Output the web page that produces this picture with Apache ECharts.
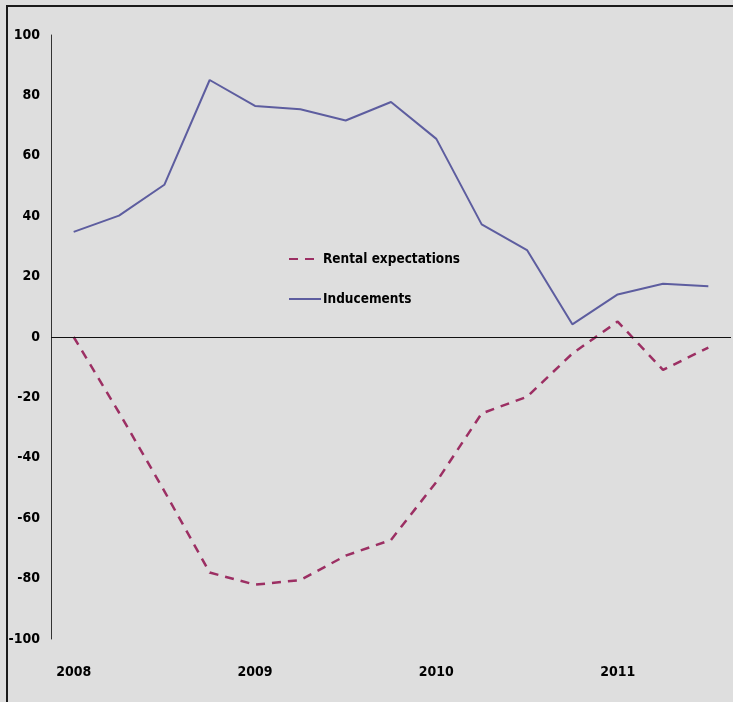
<!DOCTYPE html>
<html>
<head>
<meta charset="utf-8">
<script src="https://cdn.jsdelivr.net/npm/echarts@6/dist/echarts.min.js"></script>
<style>
  html, body { margin: 0; padding: 0; background: #dedede; }
  #chart { width: 733px; height: 702px; }
</style>
</head>
<body>
<div id="chart"></div>
<script>
// Quarterly periods, 2008 Q1 to 2011 Q3
const quarters = ['2008 Q1','2008 Q2','2008 Q3','2008 Q4',
                  '2009 Q1','2009 Q2','2009 Q3','2009 Q4',
                  '2010 Q1','2010 Q2','2010 Q3','2010 Q4',
                  '2011 Q1','2011 Q2','2011 Q3'];
// Year labels shown under the first quarter of each year
const yearLabels = ['2008','','','','2009','','','','2010','','','','2011','',''];

const rentalExpectations = [0, -25, -51, -78, -82, -80.5, -72.4, -67.2, -48, -25.3, -19.8, -5.5, 5.1, -10.9, -3.5];
const inducements = [34.8, 40.2, 50.4, 85.1, 76.5, 75.4, 71.7, 77.8, 65.6, 37.3, 28.8, 4.2, 14.1, 17.6, 16.8];

const yTicks = { min: -100, max: 100, interval: 20 };

const FONT = '"DejaVu Sans Condensed", sans-serif';

const chart = echarts.init(document.getElementById('chart'), null, { renderer: 'canvas' });

chart.setOption({
  backgroundColor: '#dedede',
  animation: false,
  graphic: [{
    type: 'rect',
    shape: { x: 7, y: 6, width: 800, height: 800 },
    style: { fill: 'none', stroke: '#1a1a1a', lineWidth: 2 },
    silent: true
  }],
  grid: { left: 51, right: 2, top: 35, bottom: 63 },
  legend: {
    orient: 'vertical',
    left: 283,
    top: 247,
    itemWidth: 32,
    itemHeight: 14,
    itemGap: 26,
    itemStyle: { opacity: 0 },
    data: ['Rental expectations', 'Inducements'],
    textStyle: { fontFamily: FONT, fontWeight: 'bold', fontSize: 13.5, color: '#000', padding: [0, 0, 0, -3] }
  },
  xAxis: {
    type: 'category',
    data: quarters,
    boundaryGap: true,
    axisLine: { show: false },
    axisTick: { show: false },
    splitLine: { show: false },
    axisLabel: {
      interval: 0,
      margin: 26,
      formatter: (v, i) => yearLabels[i],
      fontFamily: FONT, fontWeight: 'bold', fontSize: 14, color: '#000'
    }
  },
  yAxis: {
    type: 'value',
    min: yTicks.min, max: yTicks.max, interval: yTicks.interval,
    axisLine: { show: true, lineStyle: { color: '#333', width: 1 } },
    axisTick: { show: false },
    splitLine: { show: false },
    axisLabel: {
      margin: 11,
      fontFamily: FONT, fontWeight: 'bold', fontSize: 14, color: '#000'
    }
  },
  series: [
    {
      name: 'Rental expectations',
      type: 'line',
      data: rentalExpectations,
      symbol: 'none',
      color: '#9c2f63',
      lineStyle: { color: '#9c2f63', width: 2.5, type: [9, 7] },
      markLine: {
        silent: true,
        symbol: 'none',
        label: { show: false },
        lineStyle: { color: '#111', width: 1.2, type: 'solid' },
        data: [{ yAxis: 0 }]
      },
      z: 3
    },
    {
      name: 'Inducements',
      type: 'line',
      data: inducements,
      symbol: 'none',
      color: '#5d5d9f',
      lineStyle: { color: '#5d5d9f', width: 2 },
      z: 4
    }
  ]
});
</script>
</body>
</html>
